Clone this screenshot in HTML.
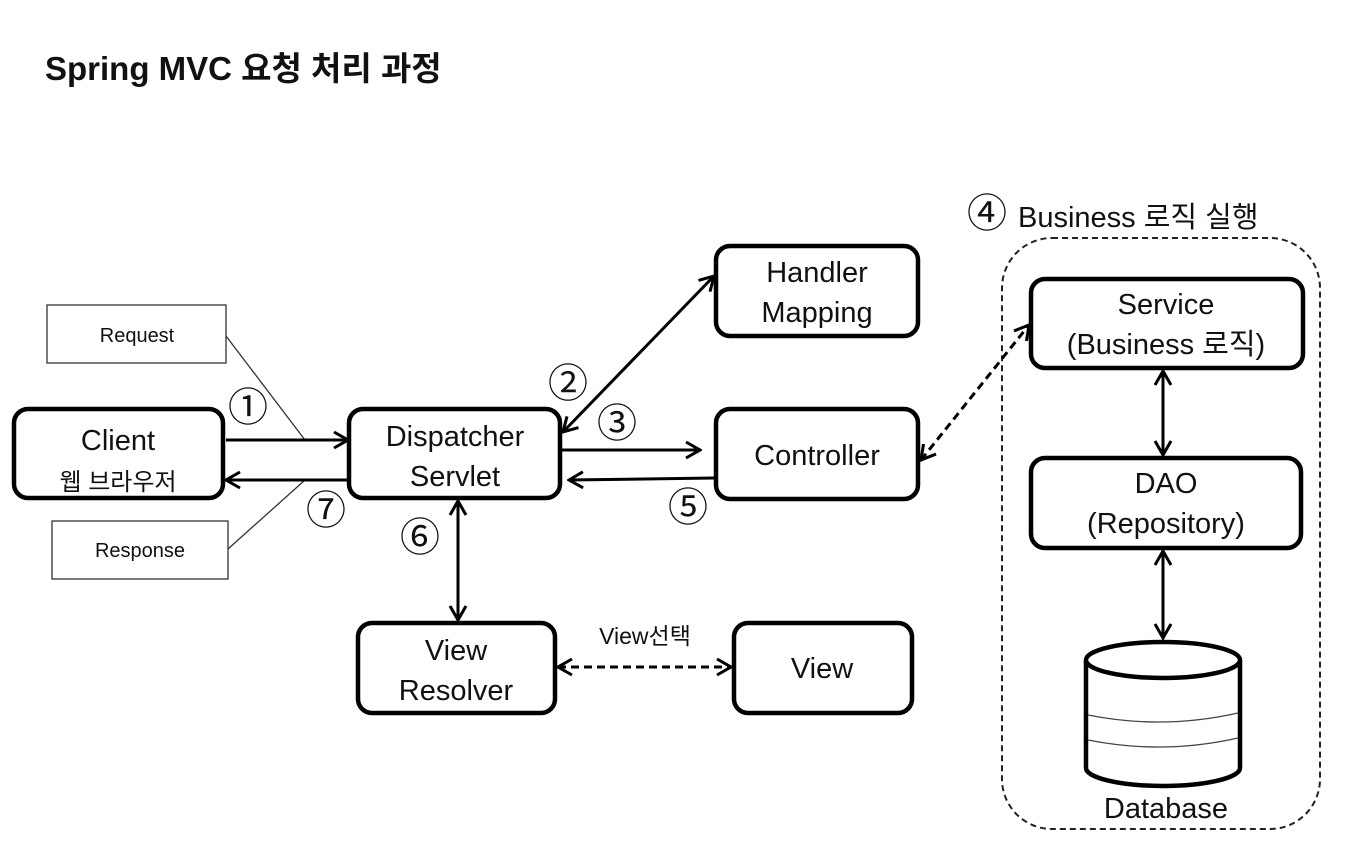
<!DOCTYPE html>
<html><head><meta charset="utf-8"><style>
html,body{margin:0;padding:0;background:#fff;}
svg{display:block;}
text{font-family:"Liberation Sans","Noto Sans CJK KR",sans-serif;fill:#111;}
</style></head><body>
<svg width="1366" height="856" viewBox="0 0 1366 856" xmlns="http://www.w3.org/2000/svg">
<defs>
<marker id="a" viewBox="0 0 20 20" refX="18" refY="10" markerWidth="20" markerHeight="20" markerUnits="userSpaceOnUse" orient="auto-start-reverse">
<path d="M4,2 L18,10 L4,18" fill="none" stroke="#000" stroke-width="3"/>
</marker>
</defs>
<text x="45" y="80" font-size="33" font-weight="bold" style="font-family:'Liberation Sans','Noto Sans CJK KR',sans-serif">Spring MVC 요청 처리 과정</text>

<g fill="none" stroke="#000" stroke-width="4.5">
<rect x="14" y="409" width="209" height="89" rx="14"/>
<rect x="349" y="409" width="211" height="89" rx="14"/>
<rect x="716" y="246" width="202" height="90" rx="14"/>
<rect x="716" y="409" width="202" height="90" rx="14"/>
<rect x="358" y="623" width="197" height="90" rx="14"/>
<rect x="734" y="623" width="178" height="90" rx="14"/>
<rect x="1031" y="279" width="272" height="89" rx="14"/>
<rect x="1031" y="458" width="270" height="90" rx="14"/>
</g>
<rect x="1002" y="238" width="318" height="591" rx="50" fill="none" stroke="#222" stroke-width="2" stroke-dasharray="6,4"/>
<g fill="none" stroke="#333" stroke-width="1.3">
<rect x="47" y="305" width="179" height="58"/>
<rect x="52" y="521" width="176" height="58"/>
<line x1="226" y1="336" x2="305" y2="440"/>
<line x1="228" y1="549" x2="305" y2="480"/>
</g>
<g stroke="#000" stroke-width="4.5" fill="#fff">
<path d="M1086,660 L1086,768 A77,18 0 0 0 1240,768 L1240,660"/>
<ellipse cx="1163" cy="660" rx="77" ry="18"/>
</g>
<path d="M1088,715 Q1163,730 1238,713 M1088,740 Q1163,755 1238,738" fill="none" stroke="#444" stroke-width="1.3"/>

<g stroke="#000" stroke-width="3" fill="none">
<line x1="226" y1="440" x2="348" y2="440" marker-end="url(#a)"/>
<line x1="347" y1="480" x2="226" y2="480" marker-end="url(#a)"/>
<line x1="563" y1="432" x2="714" y2="276" marker-start="url(#a)" marker-end="url(#a)"/>
<line x1="562" y1="450" x2="700" y2="450" marker-end="url(#a)"/>
<line x1="715" y1="478" x2="569" y2="480" marker-end="url(#a)"/>
<line x1="458" y1="501" x2="458" y2="620" marker-start="url(#a)" marker-end="url(#a)"/>
<line x1="1163" y1="371" x2="1163" y2="455" marker-start="url(#a)" marker-end="url(#a)"/>
<line x1="1163" y1="551" x2="1163" y2="638" marker-start="url(#a)" marker-end="url(#a)"/>
<line x1="558" y1="667" x2="731" y2="667" stroke-dasharray="8,5" marker-start="url(#a)" marker-end="url(#a)"/>
<line x1="921" y1="460" x2="1029" y2="325" stroke-dasharray="8,5" marker-start="url(#a)" marker-end="url(#a)"/>
</g>

<g font-size="29" text-anchor="middle">
<text x="118" y="450">Client</text>
<text x="118" y="490" font-size="24">웹 브라우저</text>
<text x="455" y="446">Dispatcher</text>
<text x="455" y="486">Servlet</text>
<text x="817" y="282">Handler</text>
<text x="817" y="322">Mapping</text>
<text x="817" y="465">Controller</text>
<text x="456" y="660">View</text>
<text x="456" y="700">Resolver</text>
<text x="822" y="678">View</text>
<text x="1166" y="314">Service</text>
<text x="1166" y="354">(Business 로직)</text>
<text x="1166" y="493">DAO</text>
<text x="1166" y="533">(Repository)</text>
<text x="1166" y="818">Database</text>
<text x="1018" y="227" text-anchor="start">Business 로직 실행</text>
<text x="137" y="342" font-size="20">Request</text>
<text x="140" y="557" font-size="20">Response</text>
<text x="645" y="644" font-size="23">View선택</text>
</g>
<g font-size="40" text-anchor="middle">
<text x="248" y="421">①</text>
<text x="568" y="397">②</text>
<text x="617" y="437">③</text>
<text x="987" y="227">④</text>
<text x="688" y="521">⑤</text>
<text x="420" y="551">⑥</text>
<text x="326" y="524">⑦</text>
</g>
</svg>
</body></html>
